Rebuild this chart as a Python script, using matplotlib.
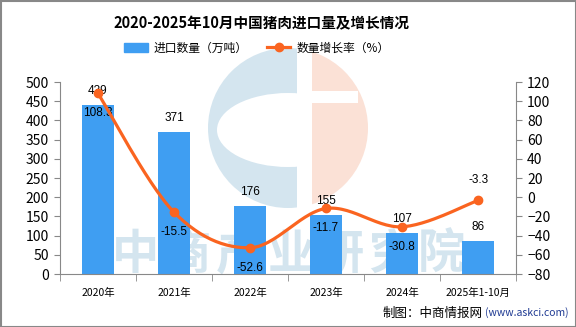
import numpy as np
import matplotlib.pyplot as plt
from matplotlib.patches import Circle, Ellipse, Rectangle

plt.rcParams['font.family'] = ['Noto Sans CJK SC', 'DejaVu Sans']

years = ["2020年", "2021年", "2022年", "2023年", "2024年", "2025年1-10月"]
volume = [439, 371, 176, 155, 107, 86]
growth = [108.3, -15.5, -52.6, -11.7, -30.8, -3.3]

bar_color = "#3f9ef2"
line_color = "#fa6420"
lab_font = ["Liberation Sans", "DejaVu Sans"]


def smooth(xs, ys, n=30):
    # catmull-rom curve through the points
    xs = np.asarray(xs, float)
    ys = np.asarray(ys, float)
    px = np.concatenate([[xs[0]], xs, [xs[-1]]])
    py = np.concatenate([[ys[0]], ys, [ys[-1]]])
    outx, outy = [], []
    t = np.linspace(0, 1, n)
    for i in range(1, len(px) - 2):
        for arr, out in ((px, outx), (py, outy)):
            p0, p1, p2, p3 = arr[i - 1], arr[i], arr[i + 1], arr[i + 2]
            out.extend(0.5 * (2 * p1 + (-p0 + p2) * t
                              + (2 * p0 - 5 * p1 + 4 * p2 - p3) * t ** 2
                              + (-p0 + 3 * p1 - 3 * p2 + p3) * t ** 3))
    return np.array(outx), np.array(outy)


fig = plt.figure(figsize=(5.76, 3.27), dpi=100)

# background / watermark layer in pixel coords
bg = fig.add_axes([0, 0, 1, 1], zorder=-1)
bg.set_xlim(0, 576)
bg.set_ylim(327, 0)
bg.axis("off")
wm_blue = "#d4e5ef"
wm_orange = "#fbe1d6"
clip_l = Rectangle((200, 40), 97, 180, transform=bg.transData)
clip_r = Rectangle((312, 40), 70, 180, transform=bg.transData)
c1 = Circle((288, 128), 80, facecolor=wm_blue, edgecolor="none")
bg.add_patch(c1)
c1.set_clip_path(clip_l)
e1 = Ellipse((288, 130), 142, 74, facecolor="white", edgecolor="none")
bg.add_patch(e1)
e1.set_clip_path(clip_l)
c2 = Circle((288, 128), 80, facecolor=wm_orange, edgecolor="none")
bg.add_patch(c2)
c2.set_clip_path(clip_r)
bg.add_patch(Rectangle((312, 91), 46, 12, facecolor="white", edgecolor="none"))
for cx, ch in zip([135, 187, 239, 291, 341, 392, 441], "中商产业研究院"):
    bg.text(cx, 255, ch, fontsize=34, color=wm_blue, ha="center", va="center",
            fontweight="bold")
bg.add_patch(Rectangle((0.5, 0.5), 575, 326, fill=False, edgecolor="#888888",
                       linewidth=1.5))

ax = fig.add_axes([0.104, 0.162, 0.792, 0.587])
ax.set_facecolor("none")
x = np.arange(len(years))
ax.bar(x, volume, width=0.41, color=bar_color, zorder=2)
for xi, v in zip(x, volume):
    ax.annotate(str(v), (xi, v), xytext=(0, 14), textcoords="offset pixels",
                ha="center", va="center", fontsize=8.5, family=lab_font, zorder=5)

ax.set_xlim(-0.5, len(years) - 0.5)
ax.set_ylim(0, 500)
ax.set_yticks(np.arange(0, 501, 50))
ax.set_xticks(x)
ax.set_xticklabels(years, fontsize=7.5)
ax.set_xticks(np.arange(-0.5, len(years), 1), minor=True)
ax.tick_params(axis="x", which="major", length=0, pad=10)
ax.tick_params(axis="x", which="minor", length=5, color="#888888")
ax.tick_params(axis="y", labelsize=10, length=4, color="#888888", pad=4)
for s in ["top", "right"]:
    ax.spines[s].set_visible(False)
for s in ["left", "bottom"]:
    ax.spines[s].set_color("#888888")

ax2 = ax.twinx()
ax2.set_ylim(-80, 120)
ax2.set_yticks(np.arange(-80, 121, 20))
ax2.tick_params(axis="y", labelsize=10, length=4, color="#888888", pad=4)
for s in ["top", "left", "bottom"]:
    ax2.spines[s].set_visible(False)
ax2.spines["right"].set_color("#888888")
sx, sy = smooth(x, growth)
ax2.plot(sx, sy, color=line_color, linewidth=2.3, zorder=4)
ax2.plot(x, growth, "o", color=line_color, markersize=6, zorder=4)
for i, (xi, g) in enumerate(zip(x, growth)):
    dy = 20 if i == len(x) - 1 else -20
    ax2.annotate(f"{g}", (xi, g), xytext=(0, dy), textcoords="offset pixels",
                 ha="center", va="center", fontsize=8.5, family=lab_font)

fig.text(261 / 576, 0.928, "2020-2025年10月中国猪肉进口量及增长情况", ha="center",
         va="center", fontsize=10.5, fontweight="bold")

h1 = Rectangle((0, 0), 1, 1, color=bar_color)
h2, = bg.plot([], [], color=line_color, marker="o", linewidth=2.3, markersize=6)
fig.legend([h1, h2], ["进口数量（万吨）", "数量增长率（%）"], loc="center",
           bbox_to_anchor=(257 / 576, 0.853), ncol=2, frameon=False, fontsize=8.5,
           handlelength=2.0, columnspacing=1.6, handletextpad=0.5)

fig.text(383 / 576, 0.043, "制图：中商情报网", fontsize=9, ha="left", va="center")
fig.text(485 / 576, 0.043, "(www.askci.com)", fontsize=7.5, ha="left", va="center",
         color="#1f3a93")

fig.savefig("out.png", dpi=100)
